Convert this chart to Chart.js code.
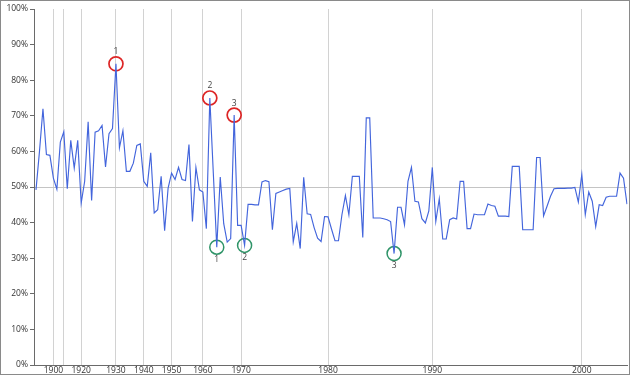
<!DOCTYPE html>
<html><head><meta charset="utf-8">
<script src="https://cdn.jsdelivr.net/npm/chart.js@4/dist/chart.umd.min.js"></script>
<style>
html,body{margin:0;padding:0;background:#fff;}
#wrap{position:relative;width:630px;height:375px;}
#frame{position:absolute;left:0;top:0;width:630px;height:375px;box-sizing:border-box;border:1px solid #8a8a8a;pointer-events:none;}
</style>
</head><body>
<div id="wrap"><canvas id="c" width="630" height="375"></canvas><div id="frame"></div></div>
<script>
const years = [
1895,1896,1897,1898,1899,
1900,1903,1906,
1910,1912,1914,1916,1918,
1920,1921,1922,1923,1924,1925,1926,1927,1928,1929,
1930,1931,1932,1933,1934,1936,1937,1938,
1940,1941,1942,1943,1945,1946,1947,1949,
1950,1951,1952,1953,1954,1955,1956,1957,1958,
1960,1961,1962,1963,1964,1965,1966,1967,1968,1968,1969,
1970,1970,1971,1971,1972,1972,1973,1973,1974,1974,1975,1975,1975,1976,1976,1977,1977,1977,1978,1978,1978,1979,1979,1979,1979,
1980,1980,1980,1981,1981,1981,1982,1982,1982,1983,1983,1983,1984,1984,1984,1985,1985,1985,1986,1986,1986,1987,1987,1987,1988,1988,1988,1989,1989,1989,
1990,1990,1990,1990,1990,1991,1991,1991,1991,1992,1992,1992,1992,1993,1993,1993,1993,1993,1994,1994,1994,1994,1995,1995,1995,1995,1996,1996,1996,1996,1996,1997,1997,1997,1997,1998,1998,1998,1998,1999,1999,1999,1999,
2000,2000,2000,2001,2001,2001,2002,2002,2002,2003,2003,2003,2004,2004
];
const values = [
49.2,60,72,59.1,58.9,
52.5,49.4,62.6,
65.5,49.5,63.1,55.3,63.1,
45.5,51.6,68.3,46.2,65.4,65.8,67.3,55.6,65.0,66.4,
84.6,61.0,65.8,54.4,54.4,56.7,61.7,62.1,
51.6,50.2,59.6,42.7,43.6,53,37.7,49.7,
53.9,52.1,55.5,52.1,51.8,61.9,40.3,55.5,49.2,
48.6,38.3,75,54,33.1,52.8,39.7,34.5,35.5,70.2,39.2,
39.2,33.6,45.1,45.1,45,45,51.4,51.8,51.5,38,48.2,48.6,49,49.4,49.6,34.6,39.8,32.7,52.7,42.5,42.3,38.6,35.6,34.7,41.7,
41.6,38.2,34.9,34.9,42.2,47.6,42.2,53,53,53,35.8,69.4,69.4,41.3,41.3,41.3,41.1,40.8,40.3,31.3,44.3,44.3,39.4,51.6,55.5,46,45.8,41.1,39.9,43.3,
55.5,40.3,46.7,35.4,35.4,40.8,41.3,41,51.6,51.6,38.3,38.3,42.4,42.2,42.2,42.2,45.2,44.8,44.6,41.8,41.8,41.8,41.7,55.8,55.8,55.8,38,38,38,38,58.3,58.3,41.9,44.6,47.4,49.5,49.6,49.6,49.6,49.7,49.7,49.9,45.8,
53.5,42.2,48.6,46,38.9,45,44.8,47.1,47.4,47.4,47.4,53.9,52.5,45.2
];
const maxIdx = [23,50,57];
const minIdx = [52,60,103];
const yTicks = [0,10,20,30,40,50,60,70,80,90,100];

const labels = years.map(String);
const isDecadeStart = i => i > 0 && Math.floor(years[i]/10) !== Math.floor(years[i-1]/10);
const decadeStarts = years.map((y,i)=>i).filter(isDecadeStart);
const showLabel = i => {
  const k = decadeStarts.indexOf(i);
  if (k < 0) return false;
  if (k > 0 && i - decadeStarts[k-1] < 5) return false;
  return true;
};
const maxData = values.map((v,i)=> maxIdx.includes(i) ? v : null);
const minData = values.map((v,i)=> minIdx.includes(i) ? v : null);

const FONT = '"Open Sans", "Noto Sans", sans-serif';

// small inner gap between the y axis line and the first category
const innerGap = {
  id:'innerGap',
  afterLayout(chart){
    const s = chart.scales.x;
    s._startPixel += 2;
    s._length -= 2;
  }
};

const rankLabels = {
  id:'rankLabels',
  afterDatasetsDraw(chart){
    const ctx = chart.ctx;
    ctx.save();
    ctx.font = '8.5px ' + FONT;
    ctx.fillStyle = '#444';
    ctx.textAlign = 'center';
    ctx.textBaseline = 'middle';
    [[1,-12],[2,12]].forEach(([ds,dy])=>{
      const meta = chart.getDatasetMeta(ds);
      let n = 0;
      meta.data.forEach((pt,i)=>{
        if (chart.data.datasets[ds].data[i] == null) return;
        n++;
        ctx.fillText(String(n), pt.x, pt.y + dy);
      });
    });
    ctx.restore();
  }
};

new Chart(document.getElementById('c'), {
  type:'line',
  data:{
    labels: labels,
    datasets:[
      {data: values, borderColor:'#4365dc', borderWidth:1.15, pointRadius:0, tension:0, fill:false},
      {data: maxData, showLine:false, pointRadius:7, pointHoverRadius:7, pointBorderWidth:1.7, pointBorderColor:'#dd2525', pointBackgroundColor:'rgba(0,0,0,0)', clip:false},
      {data: minData, showLine:false, pointRadius:7, pointHoverRadius:7, pointBorderWidth:1.5, pointBorderColor:'#2f9468', pointBackgroundColor:'rgba(0,0,0,0)', clip:false}
    ]
  },
  options:{
    responsive:false,
    animation:false,
    devicePixelRatio:1,
    layout:{autoPadding:false, padding:{top:9,right:3,left:0,bottom:0}},
    plugins:{legend:{display:false}, tooltip:{enabled:false}},
    scales:{
      x:{
        type:'category',
        offset:false,
        grid:{
          color: c => isDecadeStart(c.index) ? '#d2d2d2' : 'rgba(0,0,0,0)',
          lineWidth:1,
          drawTicks:false
        },
        border:{color:'#6a6a6a', width:1},
        ticks:{
          autoSkip:false, maxRotation:0, minRotation:0, padding:0,
          color:'#333', font:{size:8.5, family:FONT},
          callback:(v,i)=> showLabel(i) ? labels[i] : ''
        },
        afterFit: s => { s.height = 10; s.paddingLeft = 0; s.paddingRight = 0; }
      },
      y:{
        min:0, max:100,
        afterBuildTicks: s => { s.ticks = yTicks.map(v=>({value:v})); },
        grid:{
          color: c => (c.tick && c.tick.value === 50) ? '#c4c4c4' : 'rgba(0,0,0,0)',
          tickColor:'#6a6a6a', tickLength:4, drawTicks:true
        },
        border:{color:'#6a6a6a', width:1},
        ticks:{color:'#333', font:{size:8.5, family:FONT}, padding:2, callback:v=>v+'%'},
        afterFit: s => { s.width = 34; }
      }
    }
  },
  plugins:[innerGap, rankLabels]
});
</script>
</body></html>
